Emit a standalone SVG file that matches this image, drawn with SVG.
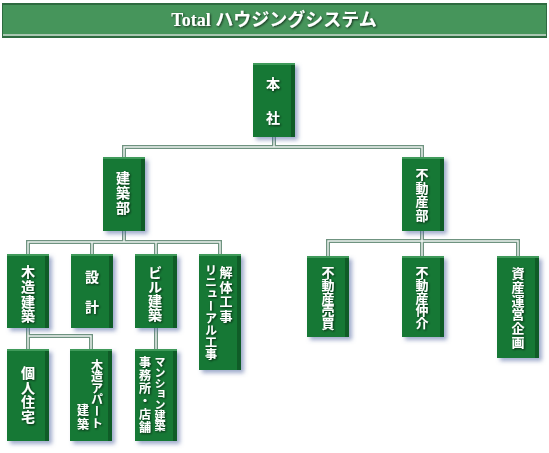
<svg xmlns="http://www.w3.org/2000/svg" width="549" height="453" viewBox="0 0 549 453">
<defs>
<filter id="sh" x="-30%" y="-20%" width="160%" height="140%">
<feDropShadow dx="3" dy="3" stdDeviation="2" flood-color="#4f63a0" flood-opacity="0.55"/>
</filter>
<filter id="ts" x="-20%" y="-20%" width="140%" height="140%">
<feDropShadow dx="1" dy="1" stdDeviation="0.8" flood-color="#000" flood-opacity="0.7"/>
</filter>
</defs>
<style>
.box{fill:#187834}
.side{fill:#0f5c27}
.top{fill:#3f9a5a}
.t{font-family:"Noto Sans CJK JP","Noto Sans CJK SC",sans-serif;font-weight:bold;fill:#fff;writing-mode:vertical-rl;filter:url(#ts)}
.c{fill:none;stroke:#6f9380;stroke-width:4}
.ci{fill:none;stroke:#eef4f0;stroke-width:1.4}
</style>
<rect x="0" y="0" width="549" height="453" fill="#fff"/>
<g id="title">
<rect x="2" y="3" width="545" height="35" fill="#2e6b40"/>
<rect x="3" y="5" width="543" height="29" fill="#46955b"/>
<line x1="3" y1="35" x2="546" y2="35" stroke="#d4e6d8" stroke-width="1.5"/>
<text x="274" y="26" text-anchor="middle" font-family="'Liberation Serif','Noto Sans CJK JP',serif" font-weight="bold" font-size="18" fill="#fff" filter="url(#ts)">Total ハウジングシステム</text>
</g>
<g id="connectors">
<path class="c" d="M274,137V147M124,157V147H422V157M124,231V242M28,254V242H220V254M92,242V254M156,242V254M28,328V349M28,336H91V349M156,328V349M422,231V241M328,256V241H518V256M422,241V256"/>
<path class="ci" d="M274,137V147M124,157V147H422V157M124,231V242M28,254V242H220V254M92,242V254M156,242V254M28,328V349M28,336H91V349M156,328V349M422,231V241M328,256V241H518V256M422,241V256"/>
</g>
<g id="honsha">
<rect class="box" x="253" y="63" width="42" height="74" filter="url(#sh)"/>
<rect class="side" x="291" y="63" width="4" height="74"/><rect class="top" x="253" y="63" width="42" height="2"/>
<text class="t" x="273" y="77" font-size="14" letter-spacing="20">本社</text>
</g>
<g id="kenchikubu">
<rect class="box" x="103" y="157" width="42" height="74" filter="url(#sh)"/>
<rect class="side" x="141" y="157" width="4" height="74"/><rect class="top" x="103" y="157" width="42" height="2"/>
<text class="t" x="123" y="171" font-size="14" letter-spacing="1">建築部</text>
</g>
<g id="fudosanbu">
<rect class="box" x="402" y="157" width="42" height="74" filter="url(#sh)"/>
<rect class="side" x="440" y="157" width="4" height="74"/><rect class="top" x="402" y="157" width="42" height="2"/>
<text class="t" x="422" y="167.5" font-size="13" letter-spacing="0.7">不動産部</text>
</g>
<g id="mokuzou">
<rect class="box" x="7" y="254" width="42" height="74" filter="url(#sh)"/>
<rect class="side" x="45" y="254" width="4" height="74"/><rect class="top" x="7" y="254" width="42" height="2"/>
<text class="t" x="28" y="265" font-size="14" letter-spacing="0.7">木造建築</text>
</g>
<g id="sekkei">
<rect class="box" x="71" y="254" width="42" height="74" filter="url(#sh)"/>
<rect class="side" x="109" y="254" width="4" height="74"/><rect class="top" x="71" y="254" width="42" height="2"/>
<text class="t" x="92" y="270" font-size="14" letter-spacing="16">設計</text>
</g>
<g id="biru">
<rect class="box" x="135" y="254" width="42" height="74" filter="url(#sh)"/>
<rect class="side" x="173" y="254" width="4" height="74"/><rect class="top" x="135" y="254" width="42" height="2"/>
<text class="t" x="155" y="266" font-size="14" letter-spacing="0">ビル建築</text>
</g>
<g id="kaitai">
<rect class="box" x="199" y="254" width="42" height="116" filter="url(#sh)"/>
<rect class="side" x="237" y="254" width="4" height="116"/><rect class="top" x="199" y="254" width="42" height="2"/>
<text class="t" x="226" y="266" font-size="13" letter-spacing="1.5">解体工事</text>
<text class="t" x="211" y="264" font-size="12" letter-spacing="0.1">リニューアル工事</text>
</g>
<g id="kojin">
<rect class="box" x="7" y="349" width="42" height="92" filter="url(#sh)"/>
<rect class="side" x="45" y="349" width="4" height="92"/><rect class="top" x="7" y="349" width="42" height="2"/>
<text class="t" x="28" y="366" font-size="14" letter-spacing="0.5">個人住宅</text>
</g>
<g id="apart">
<rect class="box" x="70" y="349" width="42" height="92" filter="url(#sh)"/>
<rect class="side" x="108" y="349" width="4" height="92"/><rect class="top" x="70" y="349" width="42" height="2"/>
<text class="t" x="97" y="359" font-size="12" letter-spacing="-0.4">木造アパート</text>
<text class="t" x="83" y="404" font-size="12" letter-spacing="2">建築</text>
</g>
<g id="mansion">
<rect class="box" x="135" y="349" width="42" height="92" filter="url(#sh)"/>
<rect class="side" x="173" y="349" width="4" height="92"/><rect class="top" x="135" y="349" width="42" height="2"/>
<text class="t" x="160" y="356.5" font-size="11" letter-spacing="-0.3">マンション建築</text>
<text class="t" x="145" y="356" font-size="12" letter-spacing="1">事務所・店舗</text>
</g>
<g id="baibai">
<rect class="box" x="307" y="256" width="42" height="81" filter="url(#sh)"/>
<rect class="side" x="345" y="256" width="4" height="81"/><rect class="top" x="307" y="256" width="42" height="2"/>
<text class="t" x="328" y="265.5" font-size="13" letter-spacing="-0.2">不動産売買</text>
</g>
<g id="chukai">
<rect class="box" x="402" y="256" width="42" height="81" filter="url(#sh)"/>
<rect class="side" x="440" y="256" width="4" height="81"/><rect class="top" x="402" y="256" width="42" height="2"/>
<text class="t" x="422" y="265.5" font-size="13" letter-spacing="-0.2">不動産仲介</text>
</g>
<g id="shisan">
<rect class="box" x="497" y="256" width="42" height="102" filter="url(#sh)"/>
<rect class="side" x="535" y="256" width="4" height="102"/><rect class="top" x="497" y="256" width="42" height="2"/>
<text class="t" x="518" y="266.5" font-size="13" letter-spacing="0.8">資産運営企画</text>
</g>
</svg>
